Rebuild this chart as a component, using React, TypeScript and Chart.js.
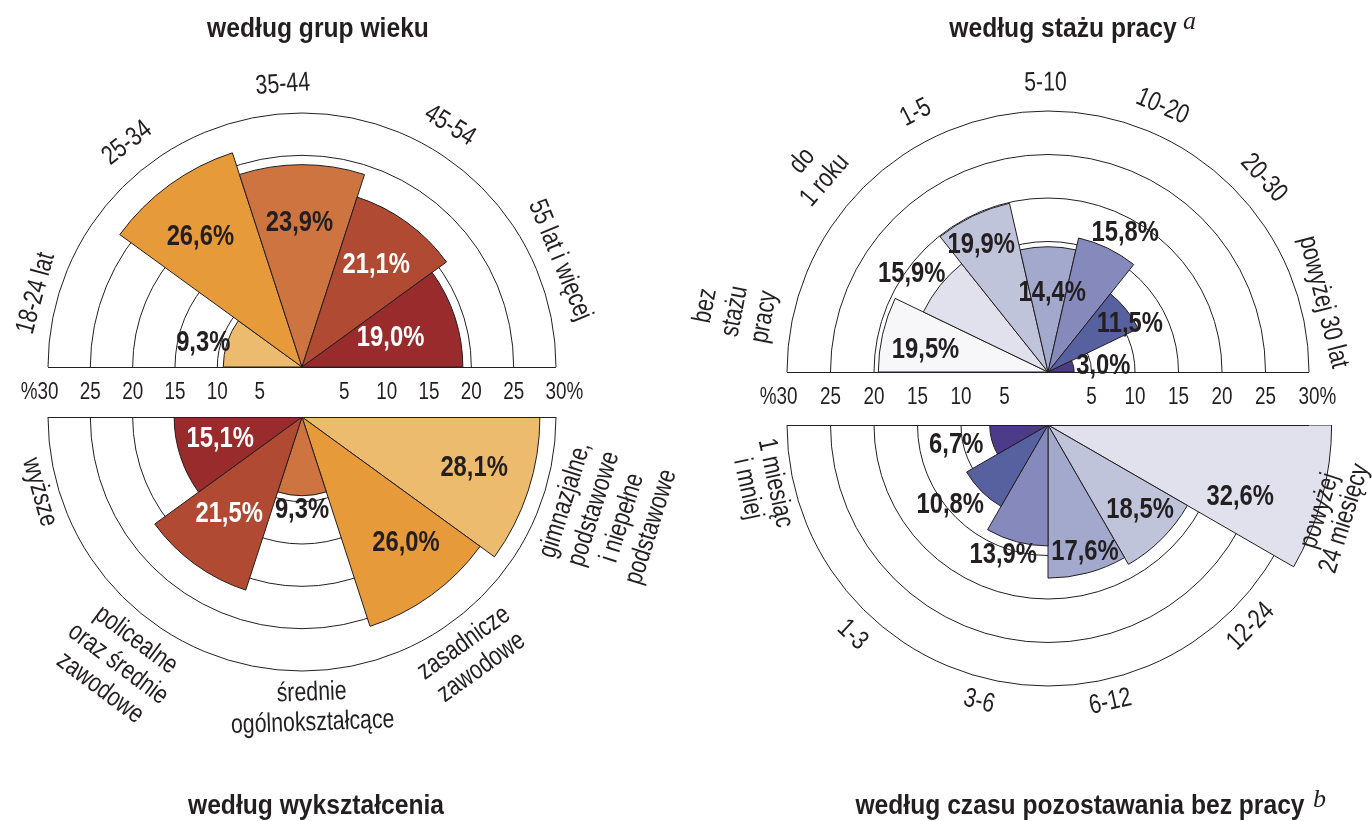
import React, { useEffect, useRef } from "react";
import { Chart, registerables } from "chart.js";
Chart.register(...registerables);

const W = 1372;
const H = 821;

// ---------------- data ----------------
const ageCategories = ["18-24 lat", "25-34", "35-44", "45-54", "55 lat i więcej"];
const ageValues = [9.3, 26.6, 23.9, 21.1, 19.0];

const educationCategories = [
  "wyższe",
  "policealne\noraz średnie\nzawodowe",
  "średnie\nogólnokształcące",
  "zasadnicze\nzawodowe",
  "gimnazjalne,\npodstawowe\ni niepełne\npodstawowe",
];
const educationValues = [15.1, 21.5, 9.3, 26.0, 28.1];

const seniorityCategories = [
  "bez\nstażu\npracy",
  "do\n1 roku",
  "1-5",
  "5-10",
  "10-20",
  "20-30",
  "powyżej 30 lat",
];
const seniorityValues = [19.5, 15.9, 19.9, 14.4, 15.8, 11.5, 3.0];

const durationCategories = [
  "1 miesiąc\ni mniej",
  "1-3",
  "3-6",
  "6-12",
  "12-24",
  "powyżej\n24 miesięcy",
];
const durationValues = [6.7, 10.8, 13.9, 17.6, 18.5, 32.6];

const tickLabelsRight = ["5", "10", "15", "20", "25", "30%"];
const tickLabelsLeft = ["5", "10", "15", "20", "25", "%30"];
const scaleMin = 0;
const scaleMax = 30;
const scaleStep = 5;

const titleAge = "według grup wieku";
const titleEducation = "według wykształcenia";
const titleSeniority = "według stażu pracy";
const titleDuration = "według czasu pozostawania bez pracy";

// ---------------- styles ----------------
const LINE = "#231F20";
const DARK = "#231F20";
const WHITE = "#FFFFFF";
const warm = ["#EDBB6E", "#E79A3A", "#CD7441", "#B14A32", "#9A2B2C"];
const cool = ["#F7F7FA", "#E0E1ED", "#C0C4DA", "#A3A9CC", "#8589BB", "#5761A0", "#4B3B89"];
const NARROW = 0.82;
const CAT_NARROW = 0.79;
const CAT_FONT = '27px "Liberation Sans", Arial, sans-serif';
const VAL_FONT = 'bold 29px "Liberation Sans", Arial, sans-serif';
const TICK_FONT = '23px "Liberation Sans", Arial, sans-serif';

type Spec = {
  key: string;
  half: "top" | "bottom";
  cx: number;
  cy: number;
  R: number;
  categories: string[];
  values: number[];
  colors: string[];
  valueTextColors: string[];
  valueLabelPos: [number, number][]; // [radius in value units, angle offset deg]
  catPos: [number, number, number][]; // [px beyond outer ring for inner line, angle offset deg, line height]
  drawTicks: boolean;
  tickDy: number;
};

const specs: Spec[] = [
  {
    key: "age",
    half: "top",
    cx: 302,
    cy: 367,
    R: 254,
    categories: ageCategories,
    values: ageValues,
    colors: warm,
    valueTextColors: [DARK, DARK, DARK, WHITE, WHITE],
    valueLabelPos: [
      [12.0, -4.4],
      [19.5, -2],
      [17.0, -1],
      [14.9, 0],
      [11.0, 0],
    ],
    catPos: [
      [22, -2.5, 29],
      [30, -2, 29],
      [29, -3.9, 29],
      [29, -4.5, 29],
      [25, -4.5, 29],
    ],
    drawTicks: true,
    tickDy: 26,
  },
  {
    key: "edu",
    half: "bottom",
    cx: 302,
    cy: 417,
    R: 254,
    categories: educationCategories,
    values: educationValues,
    colors: [warm[4], warm[3], warm[2], warm[1], warm[0]],
    valueTextColors: [WHITE, WHITE, DARK, DARK, DARK],
    valueLabelPos: [
      [10.0, 3],
      [14.3, 1],
      [11.0, 0],
      [19.3, -3.5],
      [21.2, -1.5],
    ],
    catPos: [
      [19, 2, 30],
      [24, 0.7, 30],
      [22, -2, 30],
      [24, 0.4, 30],
      [22, -0.5, 30],
    ],
    drawTicks: false,
    tickDy: 0,
  },
  {
    key: "staz",
    half: "top",
    cx: 1048,
    cy: 372,
    R: 261,
    categories: seniorityCategories,
    values: seniorityValues,
    colors: cool,
    valueTextColors: [DARK, DARK, DARK, DARK, DARK, DARK, DARK],
    valueLabelPos: [
      [14.3, -2.7],
      [19.3, -2.8],
      [16.5, -2],
      [9.1, 3],
      [18.3, 3.3],
      [10.9, 8.3],
      [6.4, 6.7],
    ],
    catPos: [
      [28, -1.9, 30],
      [33, 2.1, 30],
      [30, -1.3, 30],
      [28, -0.5, 30],
      [28, -2.4, 30],
      [29, -3.4, 30],
      [23, -1.4, 30],
    ],
    drawTicks: true,
    tickDy: 26,
  },
  {
    key: "czas",
    half: "bottom",
    cx: 1048,
    cy: 425,
    R: 261,
    categories: durationCategories,
    values: durationValues,
    colors: [cool[6], cool[5], cool[4], cool[3], cool[2], cool[1]],
    valueTextColors: [DARK, DARK, DARK, DARK, DARK, DARK],
    valueLabelPos: [
      [10.8, 2.7],
      [14.5, 5.8],
      [15.8, 4],
      [15.2, -1.2],
      [14.4, -2.3],
      [23.6, 5.6],
    ],
    catPos: [
      [18, 3, 28],
      [26, -2, 28],
      [24, -1, 28],
      [23, 2.3, 28],
      [25, -0.2, 28],
      [24, 2.5, 26],
    ],
    drawTicks: false,
    tickDy: 0,
  },
];

function fmt(v: number) {
  return v.toFixed(1).replace(".", ",") + "%";
}

function drawText(
  ctx: CanvasRenderingContext2D,
  text: string,
  x: number,
  y: number,
  rot: number,
  font: string,
  color: string,
  sx: number
) {
  ctx.save();
  ctx.translate(x, y);
  ctx.rotate(rot);
  ctx.scale(sx, 1);
  ctx.font = font;
  ctx.fillStyle = color;
  ctx.textAlign = "center";
  ctx.textBaseline = "middle";
  ctx.fillText(text, 0, 0);
  ctx.restore();
}

function drawTick(ctx: CanvasRenderingContext2D, label: string, x: number, y: number) {
  const num = label.replace("%", "");
  ctx.save();
  ctx.translate(x, y);
  ctx.scale(NARROW, 1);
  ctx.font = TICK_FONT;
  ctx.fillStyle = DARK;
  ctx.textBaseline = "middle";
  const w = ctx.measureText(num).width;
  if (label.endsWith("%")) {
    ctx.textAlign = "left";
    ctx.fillText(label, -w / 2, 0);
  } else if (label.startsWith("%")) {
    ctx.textAlign = "right";
    ctx.fillText(label, w / 2, 0);
  } else {
    ctx.textAlign = "center";
    ctx.fillText(label, 0, 0);
  }
  ctx.restore();
}

function makePlugin(spec: Spec) {
  return {
    id: "halfPolar_" + spec.key,
    beforeDraw(chart: any) {
      const s = chart.scales.r;
      const ctx = chart.ctx;
      ctx.save();
      ctx.beginPath();
      if (spec.half === "top") ctx.rect(0, 0, chart.width, s.yCenter);
      else ctx.rect(0, s.yCenter, chart.width, chart.height - s.yCenter);
      ctx.clip();
    },
    afterDatasetsDraw(chart: any) {
      chart.ctx.restore();
    },
    afterDraw(chart: any) {
      const ctx: CanvasRenderingContext2D = chart.ctx;
      const s = chart.scales.r;
      const cx = s.xCenter;
      const cy = s.yCenter;
      const R = s.drawingArea;
      const meta = chart.getDatasetMeta(0);
      const n = spec.values.length;
      const deg = Math.PI / 180;

      // baseline (diameter)
      ctx.save();
      ctx.strokeStyle = LINE;
      ctx.lineWidth = 1;
      ctx.beginPath();
      ctx.moveTo(cx - R, cy + 0.5);
      ctx.lineTo(cx + R, cy + 0.5);
      ctx.stroke();
      ctx.restore();

      for (let i = 0; i < n; i++) {
        const j = spec.half === "top" ? i : n - 1 - i;
        const arc: any = meta.data[j];
        const mid = (arc.startAngle + arc.endAngle) / 2;

        // category labels
        const [dr, dA, lh] = spec.catPos[i];
        const a = mid + dA * deg;
        const rot = spec.half === "top" ? a + Math.PI / 2 : a - Math.PI / 2;
        const lines = spec.categories[i].split("\n");
        lines.forEach((ln, k) => {
          const fromInner = spec.half === "top" ? lines.length - 1 - k : k;
          const r = R + dr + fromInner * lh;
          drawText(ctx, ln, cx + r * Math.cos(a), cy + r * Math.sin(a), rot, CAT_FONT, DARK, CAT_NARROW);
        });

        // value labels
        const [rv, da] = spec.valueLabelPos[i];
        const ang = mid + da * deg;
        const d = s.getDistanceFromCenterForValue(rv);
        drawText(
          ctx,
          fmt(spec.values[i]),
          cx + d * Math.cos(ang),
          cy + d * Math.sin(ang),
          0,
          VAL_FONT,
          spec.valueTextColors[i],
          NARROW
        );
      }

      if (spec.drawTicks) {
        const ticks = s.ticks.filter((t: any) => t.value > 0);
        ticks.forEach((t: any, k: number) => {
          const d = s.getDistanceFromCenterForValue(t.value);
          drawTick(ctx, tickLabelsRight[k], cx + d, cy + spec.tickDy);
          drawTick(ctx, tickLabelsLeft[k], cx - d, cy + spec.tickDy);
        });
      }
    },
  };
}

function HalfPolar({ spec }: { spec: Spec }) {
  const ref = useRef<HTMLCanvasElement>(null);
  useEffect(() => {
    const n = spec.values.length;
    const idx = Array.from({ length: n }, (_, i) => i);
    const order = spec.half === "top" ? idx : idx.slice().reverse();
    const chart = new Chart(ref.current as HTMLCanvasElement, {
      type: "polarArea",
      data: {
        labels: order.map((i) => spec.categories[i].replace(/\n/g, " ")),
        datasets: [
          {
            data: order.map((i) => spec.values[i]),
            backgroundColor: order.map((i) => spec.colors[i]),
            borderColor: LINE,
            borderWidth: 1,
            angle: 180 / n,
            clip: false,
          } as any,
        ],
      },
      options: {
        responsive: false,
        animation: false,
        devicePixelRatio: 1,
        events: [],
        layout: {
          padding: {
            left: spec.cx - spec.R,
            top: spec.cy - spec.R,
            right: W - spec.cx - spec.R,
            bottom: H - spec.cy - spec.R,
          },
        },
        plugins: { legend: { display: false }, tooltip: { enabled: false } },
        scales: {
          r: {
            min: scaleMin,
            max: scaleMax,
            startAngle: spec.half === "top" ? 270 : 90,
            ticks: { display: false, stepSize: scaleStep },
            grid: { color: LINE, lineWidth: 1, circular: true },
            angleLines: { display: false },
            pointLabels: { display: false },
          },
        },
      } as any,
      plugins: [makePlugin(spec) as any],
    });
    return () => chart.destroy();
  }, [spec]);
  return (
    <canvas
      ref={ref}
      width={W}
      height={H}
      style={{ position: "absolute", left: 0, top: 0, width: W, height: H }}
    />
  );
}

const titleBase: React.CSSProperties = {
  position: "absolute",
  whiteSpace: "nowrap",
  font: 'bold 28px "Liberation Sans", Arial, sans-serif',
  lineHeight: "28px",
  color: DARK,
  transform: "translateX(-50%) scaleX(0.88)",
  transformOrigin: "center",
};
const supBase: React.CSSProperties = {
  position: "absolute",
  whiteSpace: "nowrap",
  font: 'italic 26px "Liberation Serif", "Times New Roman", serif',
  lineHeight: "26px",
  color: DARK,
};

export default function App() {
  return (
    <div
      style={{
        position: "absolute",
        left: 0,
        top: 0,
        width: W,
        height: H,
        background: "#fff",
        overflow: "hidden",
      }}
    >
      {specs.map((s) => (
        <HalfPolar key={s.key} spec={s} />
      ))}
      <div style={{ ...titleBase, left: 318, top: 14 }}>{titleAge}</div>
      <div style={{ ...titleBase, left: 1063, top: 14 }}>{titleSeniority}</div>
      <div style={{ ...supBase, left: 1183, top: 8 }}>a</div>
      <div style={{ ...titleBase, left: 316, top: 791 }}>{titleEducation}</div>
      <div style={{ ...titleBase, left: 1080, top: 791 }}>{titleDuration}</div>
      <div style={{ ...supBase, left: 1313, top: 786 }}>b</div>
    </div>
  );
}
